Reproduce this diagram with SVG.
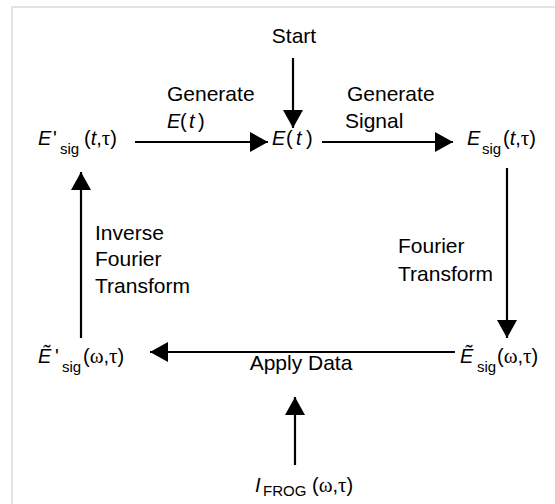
<svg xmlns="http://www.w3.org/2000/svg" width="555" height="504" viewBox="0 0 555 504">
<style>
.lbl{font-family:"Liberation Sans",Arial,sans-serif;font-size:21px;fill:#000}
.m{font-family:"Liberation Sans",Arial,sans-serif;font-size:20px;fill:#000}
.i{font-style:italic}
.g{font-family:"Liberation Serif","Times New Roman",serif;font-size:21px}
.sub{font-size:15px}
.edge{stroke:#000;stroke-width:2.2;fill:none}
.frame{stroke:#d9d9d9;stroke-width:1.5;fill:none}
</style>
<defs>
<marker id="ah" markerUnits="userSpaceOnUse" markerWidth="18" markerHeight="20" refX="18" refY="10" orient="auto">
<path d="M0,0 L18,10 L0,20 Z" fill="#000"/>
</marker>
</defs>
<rect width="555" height="504" fill="#fff"/>
<path class="frame" d="M12,504 L12,7 L555,7"/>

<g id="connectors">
<line class="edge" x1="293" y1="58" x2="293" y2="128" marker-end="url(#ah)"/>
<line class="edge" x1="135" y1="142" x2="268" y2="142" marker-end="url(#ah)"/>
<line class="edge" x1="322" y1="142" x2="453" y2="142" marker-end="url(#ah)"/>
<line class="edge" x1="507" y1="168" x2="507" y2="338" marker-end="url(#ah)"/>
<line class="edge" x1="455" y1="352" x2="150" y2="352" marker-end="url(#ah)"/>
<line class="edge" x1="295" y1="465" x2="295" y2="397" marker-end="url(#ah)"/>
<line class="edge" x1="81" y1="338" x2="81" y2="172" marker-end="url(#ah)"/>
<text class="lbl" x="167" y="101">Generate</text>
<text class="m" y="128"><tspan class="i" x="167">E</tspan><tspan x="180">(</tspan><tspan class="i" x="189">t</tspan><tspan x="198">)</tspan></text>
<text class="lbl" x="347" y="101">Generate</text>
<text class="lbl" x="345" y="128">Signal</text>
<text class="lbl" x="398" y="253">Fourier</text>
<text class="lbl" x="398" y="281">Transform</text>
<text class="lbl" x="301" y="370" text-anchor="middle">Apply Data</text>
<text class="lbl" x="95" y="240">Inverse</text>
<text class="lbl" x="95" y="266">Fourier</text>
<text class="lbl" x="95" y="293">Transform</text>
</g>

<g id="start">
<text class="lbl" x="294" y="43" text-anchor="middle">Start</text>
</g>

<g id="e-t">
<text class="m" y="145"><tspan class="i" x="272">E</tspan><tspan x="286">(</tspan><tspan class="i" x="296">t</tspan><tspan x="306">)</tspan></text>
</g>

<g id="e-prime-sig-t">
<text class="m" y="145"><tspan class="i" x="38">E</tspan><tspan x="53">'</tspan><tspan class="sub" x="60" y="154">sig</tspan><tspan x="84" y="145">(</tspan><tspan class="i">t</tspan><tspan>,</tspan><tspan class="g">τ</tspan><tspan>)</tspan></text>
</g>

<g id="e-sig-t">
<text class="m" y="145"><tspan class="i" x="467">E</tspan><tspan class="sub" x="482" y="154">sig</tspan><tspan x="503" y="145">(</tspan><tspan class="i">t</tspan><tspan>,</tspan><tspan class="g">τ</tspan><tspan>)</tspan></text>
</g>

<g id="e-tilde-sig-w">
<text class="m" y="363"><tspan class="i" x="460">Ẽ</tspan><tspan class="sub" x="477" y="372">sig</tspan><tspan x="497" y="363">(</tspan><tspan class="g">ω</tspan><tspan>,</tspan><tspan class="g">τ</tspan><tspan>)</tspan></text>
</g>

<g id="e-tilde-prime-sig-w">
<text class="m" y="363"><tspan class="i" x="38">Ẽ</tspan><tspan x="55">'</tspan><tspan class="sub" x="62" y="372">sig</tspan><tspan x="83" y="363">(</tspan><tspan class="g">ω</tspan><tspan>,</tspan><tspan class="g">τ</tspan><tspan>)</tspan></text>
</g>

<g id="i-frog">
<text class="m" y="492"><tspan class="i" x="255">I</tspan><tspan class="sub" x="263" y="496">FROG</tspan><tspan x="312" y="492">(</tspan><tspan class="g">ω</tspan><tspan>,</tspan><tspan class="g">τ</tspan><tspan>)</tspan></text>
</g>
</svg>
